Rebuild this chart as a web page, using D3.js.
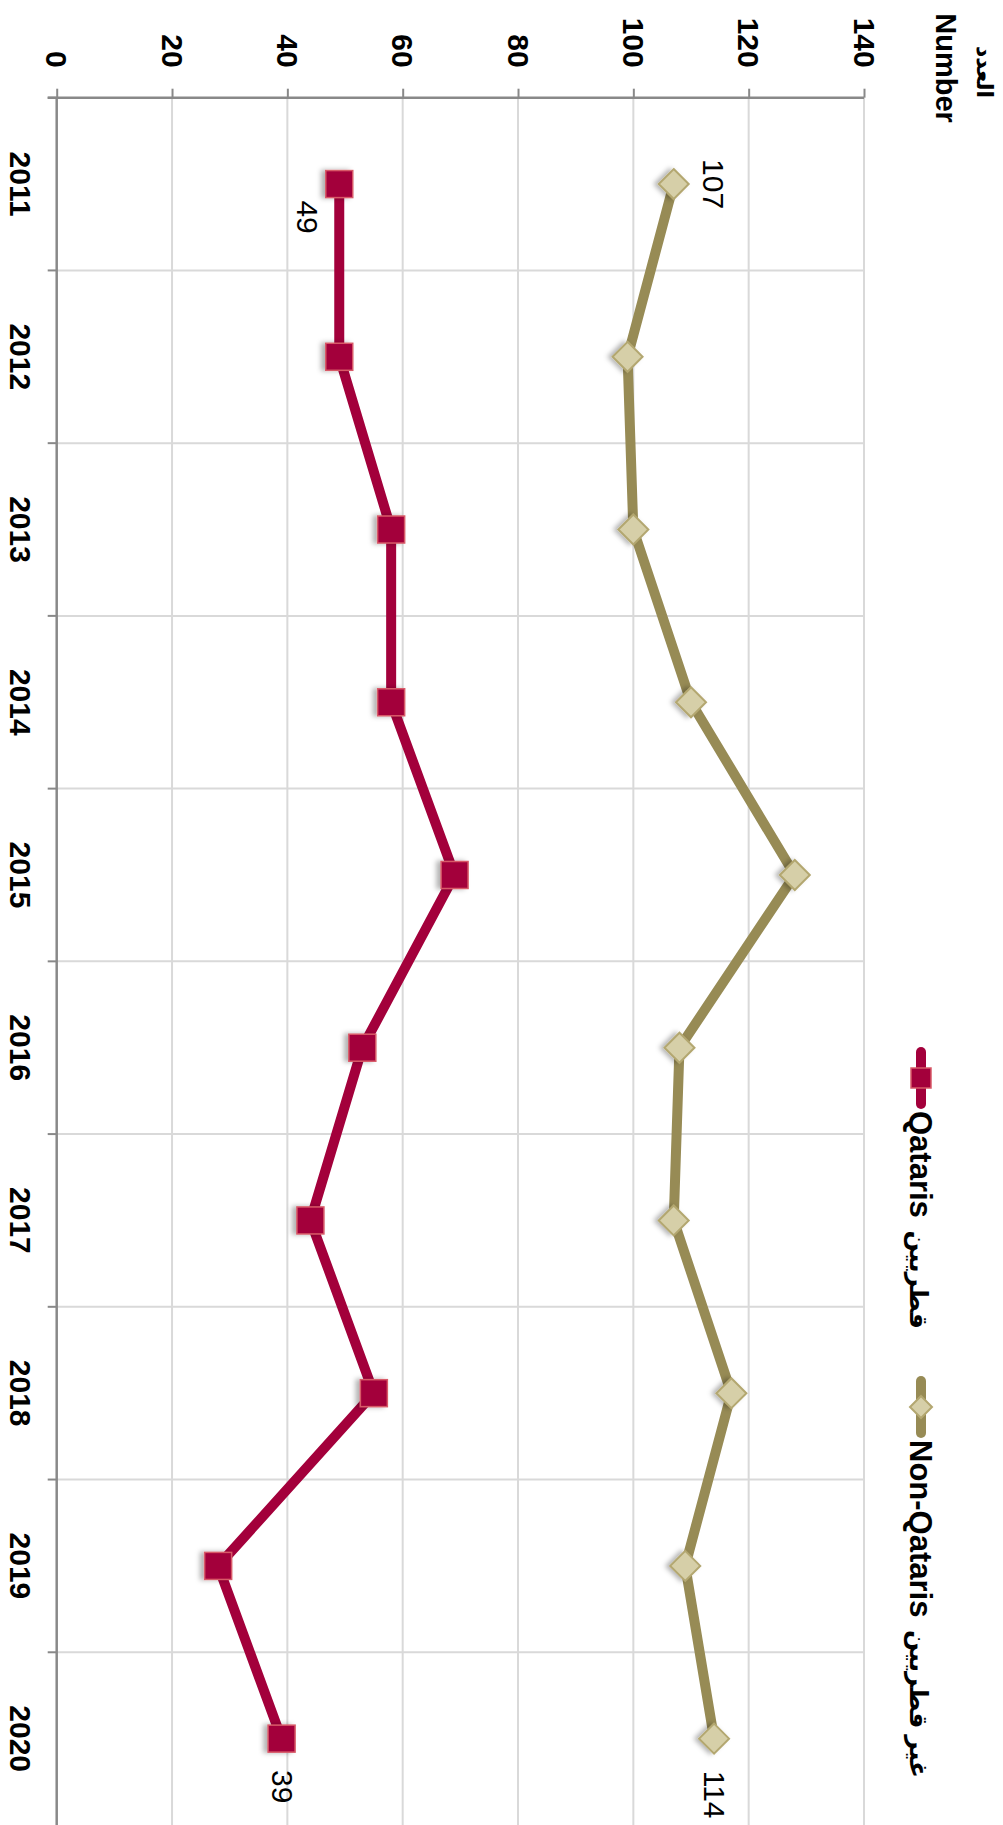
<!DOCTYPE html>
<html>
<head>
<meta charset="utf-8">
<script src="https://cdn.jsdelivr.net/npm/d3@7"></script>
<style>
  html, body { margin: 0; padding: 0; background: #ffffff; }
  svg { display: block; }
  text { font-family: "Liberation Sans", Arial, "DejaVu Sans", sans-serif; fill: #000; }
</style>
</head>
<body>
<svg id="chart" width="1003" height="1825"></svg>
<script>
// ---- data ----
const years = ["2011", "2012", "2013", "2014", "2015", "2016", "2017", "2018", "2019", "2020"];
const nonQataris = [107, 99, 100, 110, 128, 108, 107, 117, 109, 114];
const qataris = [49, 49, 58, 58, 69, 53, 44, 55, 28, 39];
const valueTicks = [0, 20, 40, 60, 80, 100, 120, 140];
const seriesNamesEn = ["Qataris", "Non-Qataris"];
const seriesNamesAr = ["قطريين", "غير قطريين"];
const titleLines = ["العدد", "Number"];

// ---- layout ----
const plotTop = 97.7, plotBottom = 1825, plotLeft = 56.7, plotRight = 864;
const svg = d3.select("#chart");

const x = d3.scaleLinear().domain([0, 140]).range([plotLeft, plotRight]);
const y = d3.scaleBand().domain(years).range([plotTop, plotBottom]).padding(0);
const yc = d => y(d) + y.bandwidth() / 2;

const colQ = "#a3003b", colQstroke = "#d85a68";
const colN = "#978b55", colNfill = "#d6cfa8", colNstroke = "#b3a770";
const grid = "#d9d9d9", axisCol = "#898989";

// shadow filter
const defs = svg.append("defs");
const f = defs.append("filter").attr("id", "sh").attr("x", "-60%").attr("y", "-60%").attr("width", "220%").attr("height", "220%");
f.append("feDropShadow").attr("dx", -4).attr("dy", 0).attr("stdDeviation", 2.5)
  .attr("flood-color", "#000").attr("flood-opacity", 0.3);

// vertical gridlines (value)
svg.append("g").selectAll("line").data(valueTicks.filter(v => v > 0)).join("line")
  .attr("x1", d => x(d)).attr("x2", d => x(d))
  .attr("y1", plotTop).attr("y2", plotBottom)
  .attr("stroke", grid).attr("stroke-width", 2);

// horizontal gridlines (category boundaries)
svg.append("g").selectAll("line").data(years.slice(1)).join("line")
  .attr("x1", plotLeft).attr("x2", plotRight)
  .attr("y1", d => y(d)).attr("y2", d => y(d))
  .attr("stroke", grid).attr("stroke-width", 2);

// value axis (top)
const xAxis = svg.append("g").attr("transform", `translate(0,${plotTop})`)
  .call(d3.axisTop(x).tickValues(valueTicks).tickSize(9).tickSizeOuter(0));
xAxis.select(".domain").attr("stroke", axisCol).attr("stroke-width", 2.5)
  .attr("d", `M${plotLeft - 9},0H${plotRight}`);
xAxis.selectAll(".tick line").attr("stroke", axisCol).attr("stroke-width", 2);
xAxis.selectAll(".tick text")
  .attr("x", 0).attr("y", 0).attr("dy", "0.36em")
  .attr("transform", "translate(0,-30) rotate(90)")
  .attr("text-anchor", "end")
  .style("font-family", '"Liberation Sans", Arial, sans-serif')
  .style("font-size", "30px").style("font-weight", "bold").attr("fill", "#000");

// category axis (left)
const yAxis = svg.append("g").attr("transform", `translate(${plotLeft},0)`)
  .call(d3.axisLeft(y).tickSize(0).tickSizeOuter(0));
yAxis.select(".domain").attr("stroke", axisCol).attr("stroke-width", 2.5)
  .attr("d", `M0,${plotTop}V${plotBottom}`);
yAxis.selectAll(".tick text")
  .attr("x", 0).attr("dy", "0.36em")
  .attr("transform", "translate(-36,0) rotate(90)")
  .attr("text-anchor", "middle")
  .style("font-family", '"Liberation Sans", Arial, sans-serif')
  .style("font-size", "30px").style("font-weight", "bold").attr("fill", "#000");
// boundary ticks
yAxis.append("g").selectAll("line").data(years).join("line")
  .attr("x1", -9).attr("x2", 0)
  .attr("y1", d => y(d)).attr("y2", d => y(d))
  .attr("stroke", axisCol).attr("stroke-width", 2);

// lines
const line = (vals) => d3.line().x(d => x(d)).y((d, i) => yc(years[i]))(vals);
svg.append("path").attr("d", line(nonQataris)).attr("fill", "none")
  .attr("stroke", colN).attr("stroke-width", 10).attr("stroke-linejoin", "round");
svg.append("path").attr("d", line(qataris)).attr("fill", "none")
  .attr("stroke", colQ).attr("stroke-width", 10).attr("stroke-linejoin", "round");

// markers
const dia = 15;
svg.append("g").attr("filter", "url(#sh)").selectAll("path").data(nonQataris).join("path")
  .attr("d", (d, i) => {
    const cx = x(d), cy = yc(years[i]);
    return `M${cx},${cy - dia}L${cx + dia},${cy}L${cx},${cy + dia}L${cx - dia},${cy}Z`;
  })
  .attr("fill", colNfill).attr("stroke", colNstroke).attr("stroke-width", 2);

const sq = 27;
svg.append("g").attr("filter", "url(#sh)").selectAll("rect").data(qataris).join("rect")
  .attr("x", d => x(d) - sq / 2).attr("y", (d, i) => yc(years[i]) - sq / 2)
  .attr("width", sq).attr("height", sq)
  .attr("fill", colQ).attr("stroke", colQstroke).attr("stroke-width", 1.5);

// data labels (first and last points)
function dataLabel(v, i, dx, dy) {
  svg.append("text")
    .attr("transform", `translate(${x(v) + dx},${yc(years[i]) + dy}) rotate(90)`)
    .attr("text-anchor", "middle").attr("dy", "0.36em")
    .style("font-size", "30px").text(v);
}
const last = years.length - 1;
dataLabel(nonQataris[0], 0, 40, 0);
dataLabel(qataris[0], 0, -31, 33);
dataLabel(nonQataris[last], last, 1, 56);
dataLabel(qataris[last], last, 1, 48);

// legend
const legX = 921;
const legendItems = [
  { en: seriesNamesEn[0], ar: seriesNamesAr[0], cy: 1078, color: colQ, kind: "square" },
  { en: seriesNamesEn[1], ar: seriesNamesAr[1], cy: 1407, color: colN, kind: "diamond" }
];
legendItems.forEach(it => {
  const g = svg.append("g");
  g.append("line").attr("x1", legX).attr("x2", legX)
    .attr("y1", it.cy - 26).attr("y2", it.cy + 26)
    .attr("stroke", it.color).attr("stroke-width", 10).attr("stroke-linecap", "round");
  if (it.kind === "square") {
    g.append("rect").attr("x", legX - 10).attr("y", it.cy - 10).attr("width", 20).attr("height", 20)
      .attr("fill", colQ).attr("stroke", colQstroke).attr("stroke-width", 1.5);
  } else {
    const s = 11;
    g.append("path").attr("d", `M${legX},${it.cy - s}L${legX + s},${it.cy}L${legX},${it.cy + s}L${legX - s},${it.cy}Z`)
      .attr("fill", colNfill).attr("stroke", colNstroke).attr("stroke-width", 2);
  }
  const t = g.append("text")
    .attr("transform", `translate(${legX},${it.cy + 33}) rotate(90)`)
    .attr("text-anchor", "start").attr("dy", "0.36em")
    .style("font-size", "31px").style("font-weight", "bold");
  t.append("tspan").text(it.en + " ");
  t.append("tspan").style("font-size", "25px").attr("dx", 4).text(it.ar);
});

// axis title
svg.append("text")
  .attr("transform", `translate(985,72) rotate(90)`)
  .attr("text-anchor", "middle").attr("dy", "0.36em")
  .style("font-size", "22px").style("font-weight", "bold")
  .text(titleLines[0]);
svg.append("text")
  .attr("transform", `translate(946,68) rotate(90)`)
  .attr("text-anchor", "middle").attr("dy", "0.36em")
  .style("font-size", "29px").style("font-weight", "bold")
  .text(titleLines[1]);
</script>
</body>
</html>
